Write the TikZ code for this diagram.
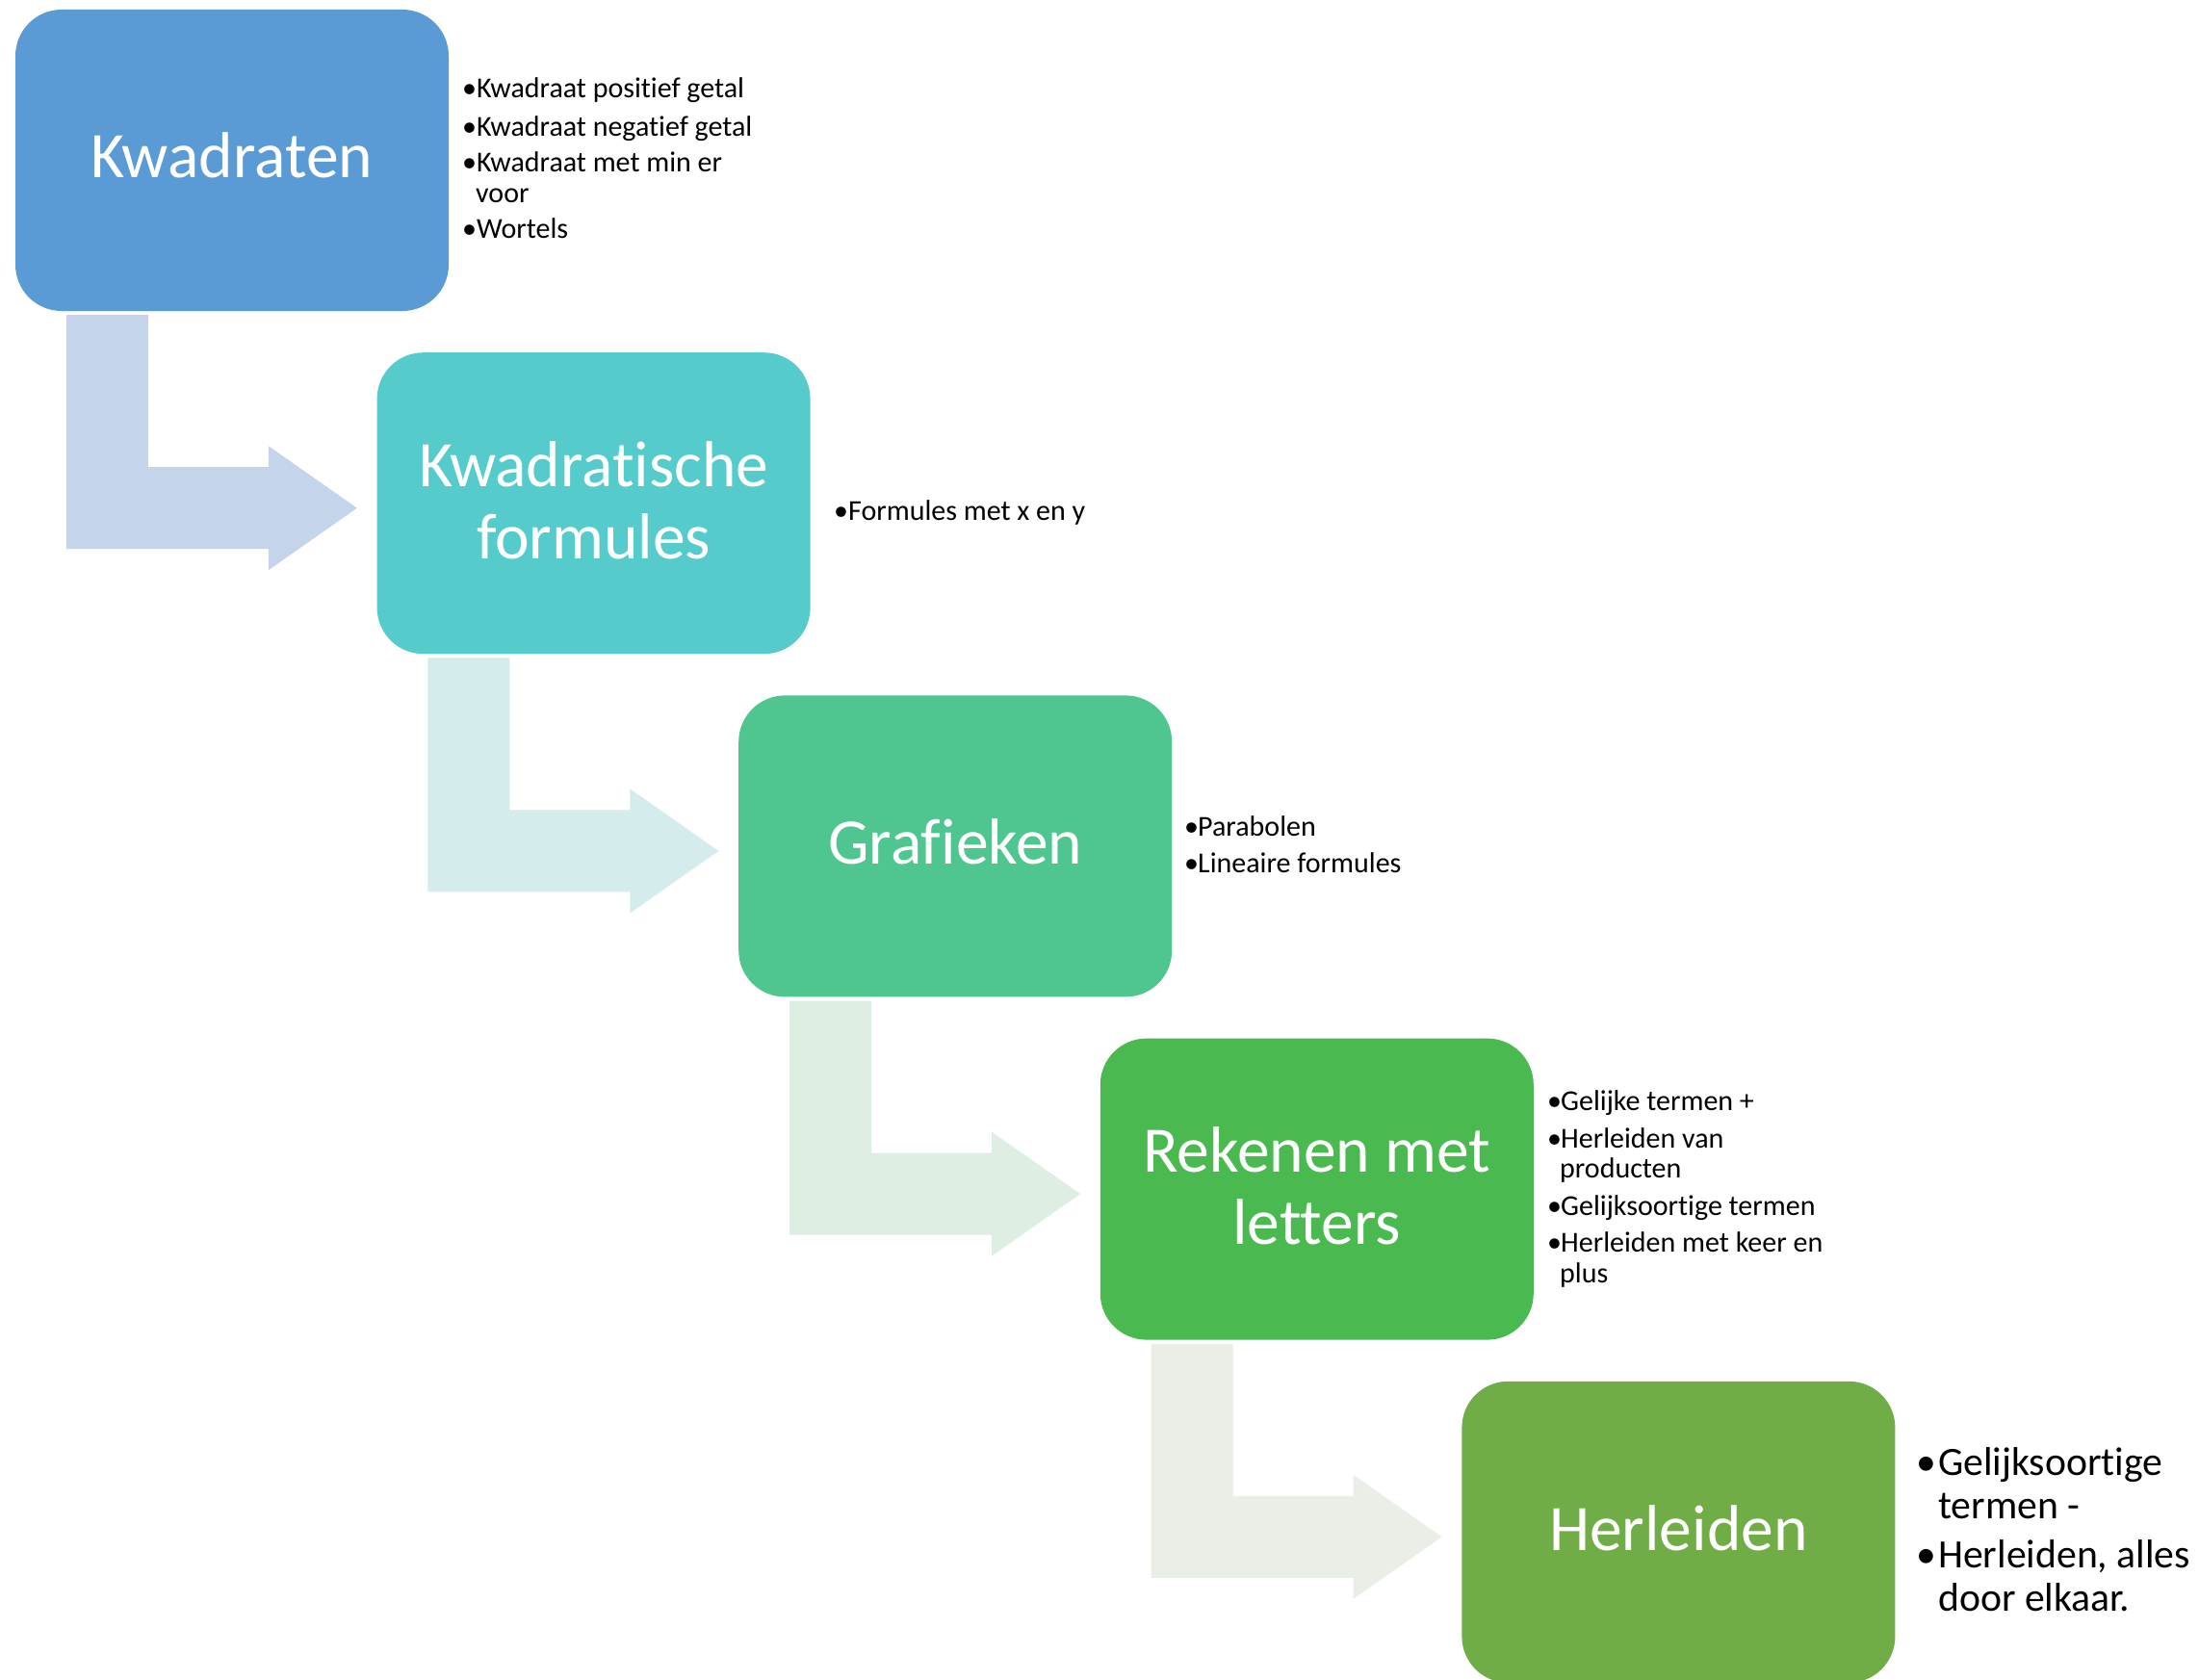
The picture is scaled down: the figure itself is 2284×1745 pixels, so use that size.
\documentclass[tikz,border=0pt]{standalone}
\usepackage{fontspec}
\setmainfont{Carlito}[Ligatures={NoCommon}]
\definecolor{c1}{HTML}{5B9BD5}
\definecolor{c2}{HTML}{56CBCB}
\definecolor{c3}{HTML}{4FC58F}
\definecolor{c4}{HTML}{4ABA50}
\definecolor{c5}{HTML}{70AD47}
\definecolor{a1}{HTML}{C4D5EB}
\definecolor{a2}{HTML}{D4ECEB}
\definecolor{a3}{HTML}{DEEEE2}
\definecolor{a4}{HTML}{E9EFE7}
\begin{document}
\begin{tikzpicture}[x=1pt,y=-1pt,
  box/.style={rectangle, rounded corners=48pt, minimum width=450pt, minimum height=313pt, inner sep=0pt, draw=none},
  title/.style={text=white, font=\fontsize{67.5}{80}\selectfont, inner sep=0pt, anchor=base},
  item/.style={text=black, font=\fontsize{30}{33}\selectfont, inner sep=0pt, anchor=base west},
  bigitem/.style={text=black, font=\fontsize{41.7}{46}\selectfont, inner sep=0pt, anchor=base west}]
\useasboundingbox (0,0) rectangle (2284,1745);
\clip (0,0) rectangle (2284,1745);
\fill[white] (0,0) rectangle (2284,1745);
% boxes
\node[box, fill=c1] (b1) at (241,166.5) {};
\node[box, fill=c2] (b2) at (616.6,522.7) {};
\node[box, fill=c3] (b3) at (992.2,878.9) {};
\node[box, fill=c4] (b4) at (1367.8,1235.1) {};
\node[box, fill=c5] (b5) at (1743.4,1591.3) {};
% bent arrows from each box to the next
\foreach \bx/\col in {b1/a1, b2/a2, b3/a3, b4/a4} {
  \fill[\col, shift={(\bx.south west)}] (53,4) -- (138,4) -- (138,162) -- (263,162) -- (263,140)
    -- (355,204.5) -- (263,269) -- (263,247) -- (53,247) -- cycle;
}
% titles
\node[title] (t1) at ([yshift=-18pt]b1.center) {Kwadraten};
\node[title] (t2a) at ([yshift=17.7pt]b2.center) {Kwadratische};
\node[title] (t2b) at ([yshift=-57.3pt]b2.center) {formules};
\node[title] (t3) at ([yshift=-18.5pt]b3.center) {Grafieken};
\node[title] (t4a) at ([yshift=17.7pt]b4.center) {Rekenen met};
\node[title] (t4b) at ([yshift=-57.3pt]b4.center) {letters};
\node[title] (t5) at ([yshift=-19.5pt]b5.center) {Herleiden};
% list 1
\node[item] (d1a) at (480,102) {•};
\node[item] (l1a) at (495,102) {Kwadraat positief getal};
\node[item] (d1b) at (480,141) {•};
\node[item] (l1b) at (495,141) {Kwadraat negatief getal};
\node[item] (d1c) at (480,178) {•};
\node[item] (l1c) at (495,178) {Kwadraat met min er};
\node[item] (l1d) at (494,210) {voor};
\node[item] (d1e) at (480,247) {•};
\node[item] (l1e) at (495,247) {Wortels};
% list 2
\node[item] (d2a) at (866,540) {•};
\node[item] (l2a) at (881,540) {Formules met x en y};
% list 3
\node[item] (d3a) at (1230,868) {•};
\node[item] (l3a) at (1244,868) {Parabolen};
\node[item] (d3b) at (1230,906) {•};
\node[item] (l3b) at (1244,906) {Lineaire formules};
% list 4
\node[item] (d4a) at (1607,1153) {•};
\node[item] (l4a) at (1621,1153) {Gelijke termen +};
\node[item] (d4b) at (1607,1192) {•};
\node[item] (l4b) at (1621,1192) {Herleiden van};
\node[item] (l4c) at (1620,1223) {producten};
\node[item] (d4d) at (1607,1262) {•};
\node[item] (l4d) at (1621,1262) {Gelijksoortige termen};
\node[item] (d4e) at (1607,1300) {•};
\node[item] (l4e) at (1621,1300) {Herleiden met keer en};
\node[item] (l4f) at (1620,1332) {plus};
% list 5
\node[bigitem] (d5a) at (1990,1532) {•};
\node[bigitem] (l5a) at (2013,1532) {Gelijksoortige};
\node[bigitem] (l5b) at (2013,1577) {termen -};
\node[bigitem] (d5c) at (1990,1628) {•};
\node[bigitem] (l5c) at (2013,1628) {Herleiden, alles};
\node[bigitem] (l5d) at (2013,1673) {door elkaar.};
\end{tikzpicture}
\end{document}
